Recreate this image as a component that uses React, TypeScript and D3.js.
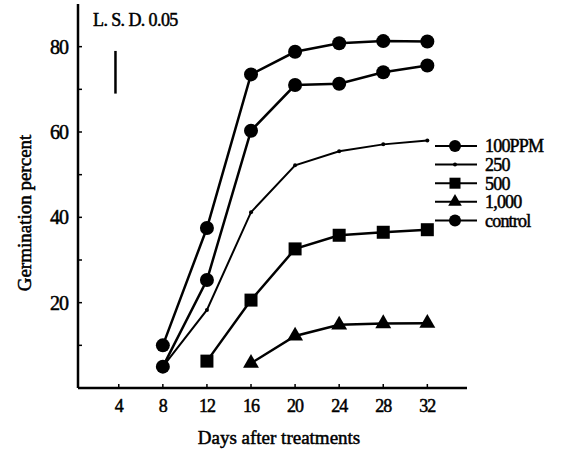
import { useEffect, useRef } from "react";
import * as d3 from "d3";

// days after treatment
const days = [8, 12, 16, 20, 24, 28, 32];
const xTicks = [4, 8, 12, 16, 20, 24, 28, 32];
const yTicks = [20, 40, 60, 80];
const yMinorTicks = [10, 30, 50, 70];

// germination percent per series (null = not measured)
const control = [10, 37.5, 73.5, 78.8, 80.8, 81.3, 81.2];
const ppm100 = [5, 25.3, 60.3, 71, 71.3, 74, 75.6];
const ppm250 = [5, 18.3, 41.2, 52.2, 55.5, 57.1, 58];
const ppm500 = [null, 6.3, 20.6, 32.6, 35.8, 36.5, 37.1];
const ppm1000 = [null, null, 5.8, 12.2, 14.8, 15.1, 15.2];

const legendLabels = ["100PPM", "250", "500", "1,000", "control"];
const lsd = { day: 3.7, low: 69, high: 79 };

type Series = { name: string; values: (number | null)[]; marker: string; width: number };

const series: Series[] = [
  { name: "control", values: control, marker: "circle", width: 2.5 },
  { name: "100PPM", values: ppm100, marker: "circle", width: 2.5 },
  { name: "250", values: ppm250, marker: "dot", width: 2 },
  { name: "500", values: ppm500, marker: "square", width: 2.5 },
  { name: "1,000", values: ppm1000, marker: "triangle", width: 2.5 },
];

const FONT = "'Liberation Serif', 'DejaVu Serif', serif";

const drawMarker = (g: any, kind: string, cx: number, cy: number, small = false) => {
  if (kind === "circle") {
    g.append("circle").attr("cx", cx).attr("cy", cy).attr("r", small ? 6 : 7).attr("fill", "#000");
  } else if (kind === "dot") {
    g.append("circle").attr("cx", cx).attr("cy", cy).attr("r", 2).attr("fill", "#000");
  } else if (kind === "square") {
    const s = small ? 11 : 13;
    g.append("rect").attr("x", cx - s / 2).attr("y", cy - s / 2).attr("width", s).attr("height", s).attr("fill", "#000");
  } else if (kind === "triangle") {
    const sym = d3.symbol().type(d3.symbolTriangle).size(small ? 80 : 110);
    g.append("path").attr("d", sym()).attr("transform", `translate(${cx},${cy})`).attr("fill", "#000");
  }
};

const Chart = () => {
  const svgRef = useRef(null);

  useEffect(() => {
    const W = 563;
    const H = 453;
    const svg = d3.select(svgRef.current).attr("width", W).attr("height", H);
    svg.selectAll("*").remove();

    const x = d3.scaleLinear().domain([0.3, 35.6]).range([78, 467]);
    const y = d3.scaleLinear().domain([0, 90]).range([388, 4]);

    const g = svg.append("g").attr("font-family", FONT).attr("fill", "#000");
    const txt = (sel: any) => sel.attr("stroke", "#000").attr("stroke-width", 0.5);

    // axes
    g.append("line").attr("x1", x(0.3)).attr("x2", x(0.3)).attr("y1", y(90)).attr("y2", y(0))
      .attr("stroke", "#000").attr("stroke-width", 2.5);
    g.append("line").attr("x1", x(0.3)).attr("x2", x(35.6)).attr("y1", y(0)).attr("y2", y(0))
      .attr("stroke", "#000").attr("stroke-width", 2.5);

    yTicks.concat(yMinorTicks).forEach((t) => {
      g.append("line").attr("x1", x(0.3)).attr("x2", x(0.3) + 4).attr("y1", y(t)).attr("y2", y(t))
        .attr("stroke", "#000").attr("stroke-width", 1.5);
    });
    yTicks.forEach((t) => {
      txt(g.append("text").attr("x", 68).attr("y", y(t)).attr("dy", "0.35em").attr("text-anchor", "end")
        .attr("font-size", 20).attr("letter-spacing", -1).text(t));
    });
    xTicks.forEach((t) => {
      g.append("line").attr("x1", x(t)).attr("x2", x(t)).attr("y1", y(0)).attr("y2", y(0) - 4)
        .attr("stroke", "#000").attr("stroke-width", 1.5);
      txt(g.append("text").attr("x", x(t)).attr("y", 412).attr("text-anchor", "middle")
        .attr("font-size", 18).attr("letter-spacing", -1).text(t));
    });

    txt(g.append("text").attr("x", 279).attr("y", 444).attr("text-anchor", "middle")
      .attr("font-size", 19).text("Days after treatments"));
    txt(g.append("text").attr("transform", `translate(31,213) rotate(-90)`).attr("text-anchor", "middle")
      .attr("font-size", 19).text("Germination percent"));

    // LSD
    txt(g.append("text").attr("x", 93).attr("y", 26).attr("font-size", 18).attr("letter-spacing", -0.6)
      .text("L. S. D. 0.05"));
    g.append("line").attr("x1", x(lsd.day)).attr("x2", x(lsd.day)).attr("y1", y(lsd.low)).attr("y2", y(lsd.high))
      .attr("stroke", "#000").attr("stroke-width", 2.5);

    // series
    const line = d3.line<[number, number | null]>()
      .defined((d) => d[1] !== null)
      .x((d) => x(d[0]))
      .y((d) => y(d[1] as number));

    series.forEach((s) => {
      const pts: [number, number | null][] = days.map((d, i) => [d, s.values[i]]);
      g.append("path").attr("d", line(pts)).attr("fill", "none").attr("stroke", "#000").attr("stroke-width", s.width);
      pts.filter((p) => p[1] !== null).forEach((p) => drawMarker(g, s.marker, x(p[0]), y(p[1] as number)));
    });

    // legend
    const legend = g.append("g");
    legendLabels.forEach((lab, i) => {
      const s = series.find((d) => d.name === lab)!;
      const ly = 146 + i * 18.6;
      legend.append("line").attr("x1", 435).attr("x2", 477).attr("y1", ly).attr("y2", ly)
        .attr("stroke", "#000").attr("stroke-width", 2);
      drawMarker(legend, s.marker, 455, ly, true);
      txt(legend.append("text").attr("x", 485).attr("y", ly).attr("dy", "0.35em").attr("font-size", 18)
        .attr("letter-spacing", -0.8).text(lab));
    });
  }, []);

  return <svg ref={svgRef} style={{ position: "absolute", left: 0, top: 0 }} />;
};

export default function App() {
  return <Chart />;
}
